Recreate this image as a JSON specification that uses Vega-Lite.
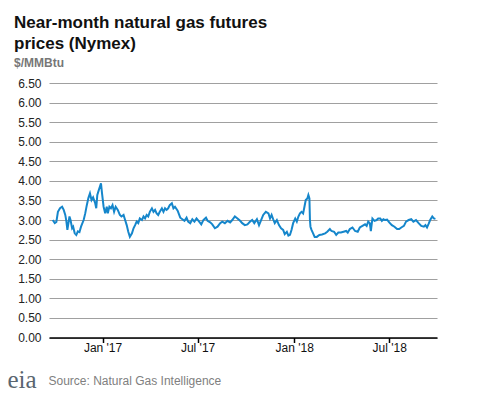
{
  "$schema": "https://vega.github.io/schema/vega-lite/v6.json",
  "width": 388,
  "height": 254.5,
  "autosize": "none",
  "padding": {"left": 49, "top": 83, "right": 40, "bottom": 55.5},
  "background": "#ffffff",
  "title": {
    "text": ["Near-month natural gas futures", "prices (Nymex)"],
    "subtitle": "$/MMBtu",
    "anchor": "start",
    "frame": "group",
    "dx": -35,
    "offset": 7,
    "font": "Liberation Sans",
    "fontSize": 17,
    "fontWeight": "bold",
    "lineHeight": 21,
    "color": "#111111",
    "subtitleFont": "Liberation Sans",
    "subtitleFontSize": 12,
    "subtitleFontWeight": "bold",
    "subtitleColor": "#777777",
    "subtitlePadding": 5
  },
  "config": {"view": {"stroke": null}},
  "data": {
    "values": [
      {"date": "2016-09-28", "price": 3.0},
      {"date": "2016-10-02", "price": 2.92},
      {"date": "2016-10-05", "price": 2.95},
      {"date": "2016-10-08", "price": 3.21},
      {"date": "2016-10-12", "price": 3.3},
      {"date": "2016-10-16", "price": 3.34},
      {"date": "2016-10-19", "price": 3.26},
      {"date": "2016-10-22", "price": 3.13},
      {"date": "2016-10-24", "price": 2.98},
      {"date": "2016-10-26", "price": 2.75},
      {"date": "2016-10-30", "price": 3.09},
      {"date": "2016-11-01", "price": 3.0},
      {"date": "2016-11-04", "price": 2.79},
      {"date": "2016-11-06", "price": 2.83},
      {"date": "2016-11-09", "price": 2.66},
      {"date": "2016-11-12", "price": 2.62},
      {"date": "2016-11-15", "price": 2.71},
      {"date": "2016-11-18", "price": 2.69},
      {"date": "2016-11-21", "price": 2.83},
      {"date": "2016-11-26", "price": 3.0},
      {"date": "2016-11-29", "price": 3.17},
      {"date": "2016-12-02", "price": 3.38},
      {"date": "2016-12-05", "price": 3.56},
      {"date": "2016-12-08", "price": 3.68},
      {"date": "2016-12-11", "price": 3.51},
      {"date": "2016-12-14", "price": 3.58},
      {"date": "2016-12-18", "price": 3.43},
      {"date": "2016-12-20", "price": 3.3},
      {"date": "2016-12-22", "price": 3.64},
      {"date": "2016-12-25", "price": 3.77},
      {"date": "2016-12-29", "price": 3.94},
      {"date": "2016-12-31", "price": 3.68},
      {"date": "2017-01-03", "price": 3.34},
      {"date": "2017-01-06", "price": 3.17},
      {"date": "2017-01-09", "price": 3.34},
      {"date": "2017-01-11", "price": 3.17},
      {"date": "2017-01-14", "price": 3.34},
      {"date": "2017-01-17", "price": 3.3},
      {"date": "2017-01-20", "price": 3.38},
      {"date": "2017-01-23", "price": 3.21},
      {"date": "2017-01-26", "price": 3.34},
      {"date": "2017-01-30", "price": 3.26},
      {"date": "2017-02-03", "price": 3.13},
      {"date": "2017-02-06", "price": 3.09},
      {"date": "2017-02-10", "price": 3.13},
      {"date": "2017-02-13", "price": 3.0},
      {"date": "2017-02-16", "price": 2.87},
      {"date": "2017-02-19", "price": 2.7},
      {"date": "2017-02-22", "price": 2.57},
      {"date": "2017-02-26", "price": 2.66},
      {"date": "2017-03-01", "price": 2.79},
      {"date": "2017-03-04", "price": 2.87},
      {"date": "2017-03-07", "price": 2.96},
      {"date": "2017-03-10", "price": 2.92},
      {"date": "2017-03-13", "price": 3.04},
      {"date": "2017-03-17", "price": 3.0},
      {"date": "2017-03-20", "price": 3.09},
      {"date": "2017-03-23", "price": 3.04},
      {"date": "2017-03-26", "price": 3.13},
      {"date": "2017-03-29", "price": 3.09},
      {"date": "2017-04-01", "price": 3.21},
      {"date": "2017-04-05", "price": 3.3},
      {"date": "2017-04-08", "price": 3.21},
      {"date": "2017-04-11", "price": 3.26},
      {"date": "2017-04-14", "price": 3.17},
      {"date": "2017-04-17", "price": 3.13},
      {"date": "2017-04-20", "price": 3.21},
      {"date": "2017-04-24", "price": 3.3},
      {"date": "2017-04-27", "price": 3.21},
      {"date": "2017-04-30", "price": 3.3},
      {"date": "2017-05-03", "price": 3.26},
      {"date": "2017-05-06", "price": 3.3},
      {"date": "2017-05-09", "price": 3.38},
      {"date": "2017-05-13", "price": 3.43},
      {"date": "2017-05-16", "price": 3.3},
      {"date": "2017-05-19", "price": 3.34},
      {"date": "2017-05-24", "price": 3.24},
      {"date": "2017-05-29", "price": 3.06},
      {"date": "2017-06-02", "price": 3.02},
      {"date": "2017-06-06", "price": 2.98},
      {"date": "2017-06-10", "price": 3.06},
      {"date": "2017-06-13", "price": 2.96},
      {"date": "2017-06-17", "price": 2.92},
      {"date": "2017-06-21", "price": 3.02},
      {"date": "2017-06-25", "price": 2.96},
      {"date": "2017-06-29", "price": 3.04},
      {"date": "2017-07-04", "price": 2.96},
      {"date": "2017-07-08", "price": 2.89},
      {"date": "2017-07-12", "price": 3.0},
      {"date": "2017-07-17", "price": 3.06},
      {"date": "2017-07-20", "price": 2.98},
      {"date": "2017-07-25", "price": 2.94},
      {"date": "2017-07-29", "price": 2.89},
      {"date": "2017-08-03", "price": 2.79},
      {"date": "2017-08-08", "price": 2.83},
      {"date": "2017-08-13", "price": 2.92},
      {"date": "2017-08-17", "price": 2.96},
      {"date": "2017-08-22", "price": 2.92},
      {"date": "2017-08-27", "price": 2.98},
      {"date": "2017-09-01", "price": 2.94},
      {"date": "2017-09-05", "price": 3.0},
      {"date": "2017-09-10", "price": 3.09},
      {"date": "2017-09-15", "price": 3.04},
      {"date": "2017-09-20", "price": 2.98},
      {"date": "2017-09-24", "price": 2.92},
      {"date": "2017-09-29", "price": 2.87},
      {"date": "2017-10-04", "price": 2.89},
      {"date": "2017-10-09", "price": 2.96},
      {"date": "2017-10-13", "price": 3.0},
      {"date": "2017-10-17", "price": 2.92},
      {"date": "2017-10-22", "price": 3.02},
      {"date": "2017-10-26", "price": 2.87},
      {"date": "2017-10-30", "price": 3.0},
      {"date": "2017-11-03", "price": 3.13},
      {"date": "2017-11-08", "price": 3.21},
      {"date": "2017-11-13", "price": 3.17},
      {"date": "2017-11-16", "price": 3.04},
      {"date": "2017-11-19", "price": 3.13},
      {"date": "2017-11-22", "price": 3.02},
      {"date": "2017-11-25", "price": 2.92},
      {"date": "2017-11-29", "price": 3.0},
      {"date": "2017-12-03", "price": 2.87},
      {"date": "2017-12-07", "price": 2.79},
      {"date": "2017-12-11", "price": 2.75},
      {"date": "2017-12-14", "price": 2.64},
      {"date": "2017-12-18", "price": 2.7},
      {"date": "2017-12-21", "price": 2.6},
      {"date": "2017-12-24", "price": 2.62},
      {"date": "2017-12-27", "price": 2.75},
      {"date": "2017-12-30", "price": 2.92},
      {"date": "2018-01-03", "price": 3.04},
      {"date": "2018-01-06", "price": 2.96},
      {"date": "2018-01-09", "price": 3.09},
      {"date": "2018-01-12", "price": 3.17},
      {"date": "2018-01-15", "price": 3.21},
      {"date": "2018-01-18", "price": 3.17},
      {"date": "2018-01-20", "price": 3.3},
      {"date": "2018-01-23", "price": 3.51},
      {"date": "2018-01-26", "price": 3.55},
      {"date": "2018-01-28", "price": 3.64},
      {"date": "2018-01-30", "price": 3.55},
      {"date": "2018-01-31", "price": 3.0},
      {"date": "2018-02-01", "price": 2.83},
      {"date": "2018-02-03", "price": 2.75},
      {"date": "2018-02-06", "price": 2.66},
      {"date": "2018-02-09", "price": 2.57},
      {"date": "2018-02-13", "price": 2.57},
      {"date": "2018-02-18", "price": 2.62},
      {"date": "2018-02-23", "price": 2.63},
      {"date": "2018-03-01", "price": 2.66},
      {"date": "2018-03-05", "price": 2.7},
      {"date": "2018-03-10", "price": 2.77},
      {"date": "2018-03-13", "price": 2.72},
      {"date": "2018-03-18", "price": 2.7},
      {"date": "2018-03-22", "price": 2.62},
      {"date": "2018-03-26", "price": 2.68},
      {"date": "2018-03-31", "price": 2.68},
      {"date": "2018-04-05", "price": 2.7},
      {"date": "2018-04-10", "price": 2.72},
      {"date": "2018-04-13", "price": 2.68},
      {"date": "2018-04-17", "price": 2.77},
      {"date": "2018-04-22", "price": 2.81},
      {"date": "2018-04-27", "price": 2.72},
      {"date": "2018-05-02", "price": 2.7},
      {"date": "2018-05-06", "price": 2.81},
      {"date": "2018-05-11", "price": 2.85},
      {"date": "2018-05-16", "price": 2.89},
      {"date": "2018-05-19", "price": 2.85},
      {"date": "2018-05-22", "price": 2.96},
      {"date": "2018-05-25", "price": 2.92},
      {"date": "2018-05-27", "price": 2.72},
      {"date": "2018-05-30", "price": 3.04},
      {"date": "2018-06-03", "price": 2.98},
      {"date": "2018-06-07", "price": 3.0},
      {"date": "2018-06-10", "price": 3.04},
      {"date": "2018-06-14", "price": 3.04},
      {"date": "2018-06-17", "price": 2.98},
      {"date": "2018-06-20", "price": 3.02},
      {"date": "2018-06-23", "price": 3.0},
      {"date": "2018-06-27", "price": 3.01},
      {"date": "2018-07-01", "price": 2.94},
      {"date": "2018-07-06", "price": 2.87},
      {"date": "2018-07-11", "price": 2.83},
      {"date": "2018-07-16", "price": 2.77},
      {"date": "2018-07-20", "price": 2.77},
      {"date": "2018-07-24", "price": 2.81},
      {"date": "2018-07-29", "price": 2.85},
      {"date": "2018-08-02", "price": 2.96},
      {"date": "2018-08-07", "price": 3.0},
      {"date": "2018-08-12", "price": 3.02},
      {"date": "2018-08-16", "price": 2.96},
      {"date": "2018-08-21", "price": 3.0},
      {"date": "2018-08-26", "price": 2.92},
      {"date": "2018-08-31", "price": 2.85},
      {"date": "2018-09-05", "price": 2.83},
      {"date": "2018-09-08", "price": 2.87},
      {"date": "2018-09-11", "price": 2.81},
      {"date": "2018-09-14", "price": 2.9},
      {"date": "2018-09-17", "price": 3.0},
      {"date": "2018-09-21", "price": 3.09},
      {"date": "2018-09-24", "price": 3.04},
      {"date": "2018-09-27", "price": 3.03}
    ]
  },
  "mark": {"type": "line", "color": "#1586cb", "strokeWidth": 2, "clip": true},
  "encoding": {
    "x": {
      "field": "date",
      "type": "temporal",
      "scale": {"type": "utc", "domain": ["2016-09-21", "2018-09-30"]},
      "axis": {
        "values": [
          {"year": 2017, "month": 1, "date": 1, "utc": true},
          {"year": 2017, "month": 7, "date": 1, "utc": true},
          {"year": 2018, "month": 1, "date": 1, "utc": true},
          {"year": 2018, "month": 7, "date": 1, "utc": true}
        ],
        "format": "%b '%y",
        "grid": false,
        "domainColor": "#000000",
        "domainWidth": 1.5,
        "tickColor": "#000000",
        "tickSize": 5,
        "tickWidth": 1.5,
        "labelFont": "Liberation Sans",
        "labelFontSize": 12,
        "labelColor": "#111111",
        "labelPadding": 0,
        "title": "Source: Natural Gas Intelligence",
        "titleFont": "Liberation Sans",
        "titleFontSize": 12,
        "titleFontWeight": "normal",
        "titleColor": "#808080",
        "titleAnchor": "start",
        "titleAlign": "left",
        "titleBaseline": "alphabetic",
        "titleX": -1,
        "titleY": 47
      }
    },
    "y": {
      "field": "price",
      "type": "quantitative",
      "scale": {"domain": [0, 6.5], "nice": false, "zero": true},
      "axis": {
        "values": [0, 0.5, 1, 1.5, 2, 2.5, 3, 3.5, 4, 4.5, 5, 5.5, 6, 6.5],
        "format": ".2f",
        "domain": false,
        "ticks": false,
        "gridColor": "#a0a0a0",
        "gridWidth": 1.2,
        "labelFont": "Liberation Sans",
        "labelFontSize": 12,
        "labelColor": "#222222",
        "labelPadding": 8,
        "title": "eia",
        "titleFont": "Liberation Serif",
        "titleFontSize": 25,
        "titleFontWeight": "normal",
        "titleColor": "#5a6670",
        "titleAngle": 0,
        "titleAlign": "left",
        "titleBaseline": "alphabetic",
        "titleX": -42,
        "titleY": 304
      }
    }
  }
}
